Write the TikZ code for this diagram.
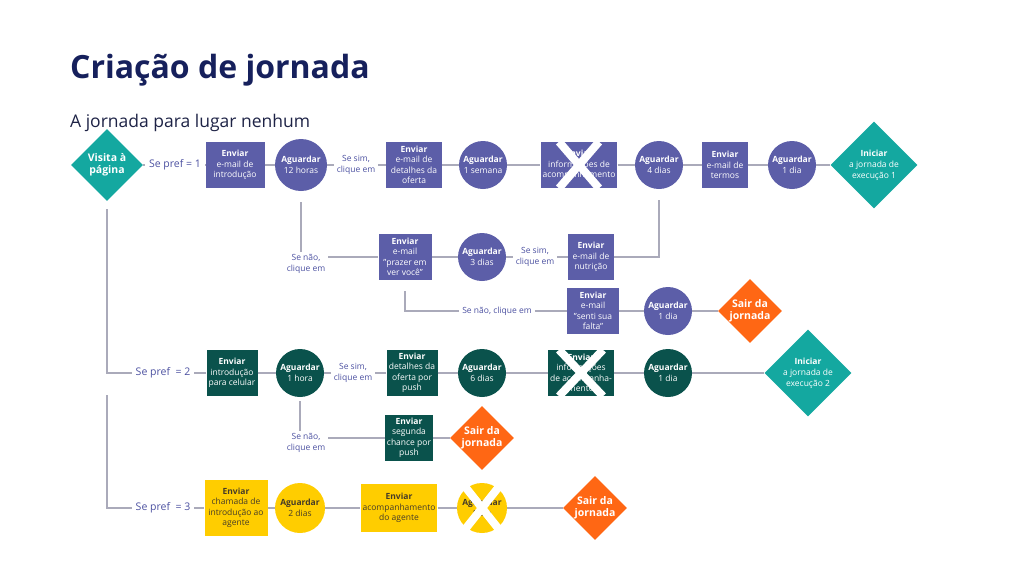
\documentclass[tikz,border=0pt]{standalone}
\usepackage{fontspec}
\setmainfont{Open Sans}
\usetikzlibrary{shapes.geometric}
\definecolor{jpurple}{RGB}{92,94,168}
\definecolor{jgreen}{RGB}{10,82,76}
\definecolor{jteal}{RGB}{20,168,160}
\definecolor{jorange}{RGB}{255,103,20}
\definecolor{jyellow}{RGB}{255,205,0}
\definecolor{jdark}{RGB}{70,60,40}
\definecolor{jgray}{RGB}{170,170,186}
\definecolor{jlabel}{RGB}{75,80,160}
\definecolor{jnavy}{RGB}{22,32,92}
\definecolor{jink}{RGB}{30,35,70}
\begin{document}
\begin{tikzpicture}[x=1pt,y=-1pt,
  conn/.style={draw=jgray, line width=2.6pt},
  envia/.style={rectangle, fill=jpurple, text=white, align=center, minimum width=46pt, minimum height=46pt, inner sep=2pt, font=\fontsize{8.5}{10.5}\selectfont},
  aguarda/.style={circle, fill=jpurple, text=white, align=center, minimum size=48pt, inner sep=0pt, font=\fontsize{8.5}{11}\selectfont},
  inicio/.style={diamond, fill=jteal, text=white, align=center, inner sep=0pt, minimum width=87pt, minimum height=87pt, font=\fontsize{8.5}{11}\selectfont},
  saida/.style={diamond, fill=jorange, text=white, align=center, inner sep=0pt, minimum width=64pt, minimum height=64pt, font=\bfseries\fontsize{10.5}{12.5}\selectfont},
  rot/.style={text=jlabel, align=center, inner sep=3pt, font=\fontsize{8.5}{11}\selectfont},
  pref/.style={text=jlabel, inner sep=4pt, font=\fontsize{10.5}{12}\selectfont},
  verde/.style={fill=jgreen},
  amarelo/.style={fill=jyellow, text=jdark},
  risco/.style={draw=white, line width=8pt}
]
\useasboundingbox (0,0) rectangle (1024,576);

\node[anchor=base west, inner sep=0pt, text=jnavy, font=\bfseries\fontsize{32}{38}\selectfont] (titulo) at (70,78) {Criação de jornada};
\node[anchor=base west, inner sep=0pt, text=jink, font=\fontsize{17.5}{20}\selectfont] (subtitulo) at (70,127) {A jornada para lugar nenhum};

% pref = 1
\node[inicio, minimum width=72pt, minimum height=72pt, font=\bfseries\fontsize{10.5}{12}\selectfont] (visita) at (107,165) {Visita à\\página};
\node[pref] (pref1) at (175,165) {Se pref = 1};
\node[envia, minimum width=59pt] (intro) at (235,165) {\textbf{Enviar}\\e-mail de\\introdução};
\node[aguarda, minimum size=52pt] (h12) at (301,165) {\textbf{Aguardar}\\12 horas};
\node[rot] (sim1) at (356,165) {Se sim,\\clique em};
\node[envia, minimum width=56pt] (oferta) at (414,165) {\textbf{Enviar}\\e-mail de\\detalhes da\\oferta};
\node[aguarda] (sem1) at (483,165) {\textbf{Aguardar}\\1 semana};
\node[envia, minimum width=75pt] (acomp1) at (579,165) {\textbf{Enviar}\\informações de\\acompanhamento};
\node[aguarda] (d4) at (659,165) {\textbf{Aguardar}\\4 dias};
\node[envia] (termos) at (725,165) {\textbf{Enviar}\\e-mail de\\termos};
\node[aguarda] (d1a) at (792,165) {\textbf{Aguardar}\\1 dia};
\node[inicio] (exec1) at (874,165) {\textbf{Iniciar}\\a jornada de\\execução 1};

\node[rot] (nao1) at (306,264) {Se não,\\clique em};
\node[envia, minimum width=53pt] (prazer) at (405,257) {\textbf{Enviar}\\e-mail\\"prazer em\\ver você"};
\node[aguarda] (d3) at (482,257) {\textbf{Aguardar}\\3 dias};
\node[rot] (sim2) at (535,257) {Se sim,\\clique em};
\node[envia] (nutri) at (591,257) {\textbf{Enviar}\\e-mail de\\nutrição};

\node[rot] (nao2) at (497,311) {Se não, clique em};
\node[envia, minimum width=52pt] (falta) at (593,311) {\textbf{Enviar}\\e-mail\\"senti sua\\falta"};
\node[aguarda] (d1b) at (668,311) {\textbf{Aguardar}\\1 dia};
\node[saida] (sair1) at (750,311) {Sair da\\jornada};

% pref = 2
\node[pref] (pref2) at (163,373) {Se pref \ = 2};
\node[envia, verde, minimum width=51pt] (celular) at (232,373) {\textbf{Enviar}\\introdução\\para celular};
\node[aguarda, verde] (h1) at (300,373) {\textbf{Aguardar}\\1 hora};
\node[rot] (sim3) at (353,373) {Se sim,\\clique em};
\node[envia, verde, minimum width=51pt] (push) at (412,373) {\textbf{Enviar}\\detalhes da\\oferta por\\push};
\node[aguarda, verde] (d6) at (482,373) {\textbf{Aguardar}\\6 dias};
\node[envia, verde, minimum width=63pt] (acomp2) at (581,373) {\textbf{Enviar}\\informações\\de acompanha-\\mento};
\node[aguarda, verde] (d1c) at (668,373) {\textbf{Aguardar}\\1 dia};
\node[inicio] (exec2) at (808,373) {\textbf{Iniciar}\\a jornada de\\execução 2};

\node[rot] (nao3) at (306,443) {Se não,\\clique em};
\node[envia, verde] (chance) at (409,438) {\textbf{Enviar}\\segunda\\chance por\\push};
\node[saida] (sair2) at (482,438) {Sair da\\jornada};

% pref = 3
\node[pref] (pref3) at (163,508) {Se pref \ = 3};
\node[envia, amarelo, minimum width=63pt, minimum height=56pt] (chamada) at (236,508) {\textbf{Enviar}\\chamada de\\introdução ao\\agente};
\node[aguarda, amarelo, minimum size=50pt] (d2) at (300,508) {\textbf{Aguardar}\\2 dias};
\node[envia, amarelo, minimum width=74pt, minimum height=48pt] (agente) at (399,508) {\textbf{Enviar}\\acompanhamento\\do agente};
\node[aguarda, amarelo, minimum size=50pt] (d1d) at (482,508) {\textbf{Aguardar}\\1 dia};
\node[saida] (sair3) at (595,508) {Sair da\\jornada};

% ligacoes
\draw[conn] (visita) -- (pref1) -- (intro) -- (h12) -- (sim1) -- (oferta) -- (sem1) -- (acomp1) -- (d4) -- (termos) -- (d1a) -- (exec1);
\draw[conn] ([yshift=-11pt]h12.south) -- ([yshift=-1pt]h12.south |- nao1.north);
\draw[conn] (nao1.east |- prazer) -- (prazer) -- (d3) -- (sim2) -- (nutri) -| ([yshift=-11pt]d4.south);
\draw[conn] ([yshift=-11pt]prazer.south) |- (nao2) -- (falta) -- (d1b) -- (sair1);
\coordinate (joelho) at (visita.south |- pref2);
\draw[conn] ([yshift=-8pt]visita.south) |- (pref2) -- (celular) -- (h1) -- (sim3) -- (push) -- (d6) -- (acomp2) -- (d1c) -- (exec2);
\draw[conn] ([yshift=-4pt]h1.south) -- ([yshift=-1pt]h1.south |- nao3.north);
\draw[conn] (nao3.east |- chance) -- (chance) -- (sair2);
\draw[conn] ([yshift=-22pt]joelho) |- (pref3) -- (chamada) -- (d2) -- (agente) -- (d1d) -- (sair3);

% cortados
\foreach \n/\w in {acomp1/20, acomp2/22, d1d/20}
  \draw[risco] ([xshift=-\w pt]\n.north) -- ([xshift=\w pt]\n.south)
               ([xshift=\w pt]\n.north) -- ([xshift=-\w pt]\n.south);
\end{tikzpicture}
\end{document}
